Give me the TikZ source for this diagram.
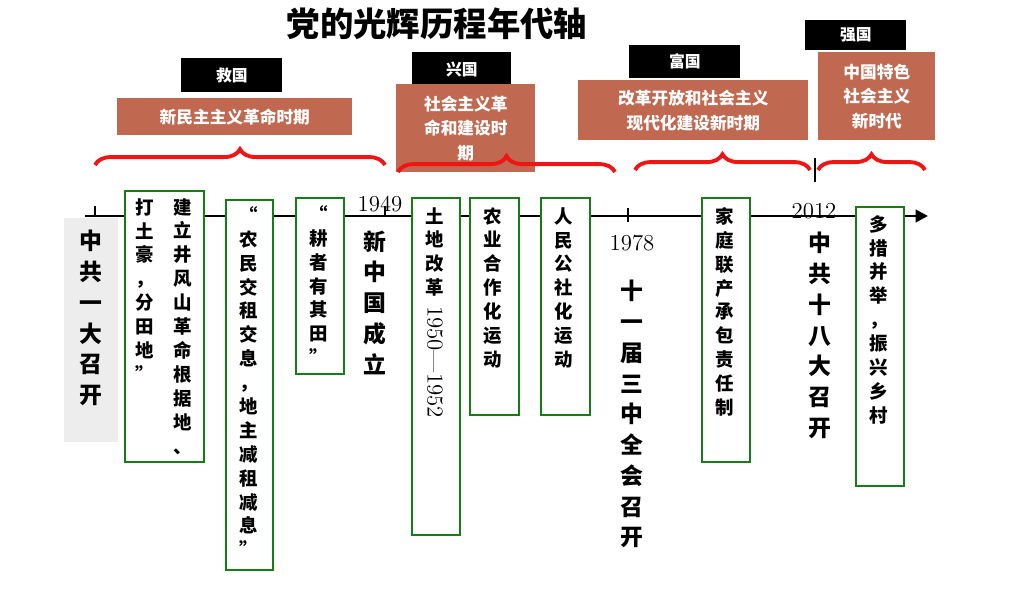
\documentclass[tikz,border=0pt]{standalone}
\usepackage{fontspec}
\newfontfamily\cjk{Noto Sans CJK SC}
\usetikzlibrary{positioning,arrows.meta,decorations.pathreplacing}
\definecolor{brick}{RGB}{192,104,80}
\definecolor{boxgreen}{RGB}{20,125,20}
\definecolor{bracered}{RGB}{240,20,20}
\tikzset{
  gbox/.style={draw=boxgreen,line width=1.4pt,fill=white,anchor=north west,inner sep=0pt},
  tab/.style={fill=black,text=white,anchor=north west,inner sep=0pt,font=\cjk\bfseries\fontsize{9}{11}\selectfont},
  era/.style={fill=brick,text=white,anchor=north west,inner sep=0pt,align=center,font=\cjk\bfseries\fontsize{9.5}{14}\selectfont},
  vt/.style={anchor=north,align=center,inner sep=0pt,font=\cjk\bfseries\fontsize{10.5}{13.6}\selectfont},
  bigvt/.style={anchor=north,align=center,inner sep=0pt,font=\cjk\bfseries\fontsize{13}{17.5}\selectfont},
  year/.style={font=\rmfamily\fontsize{13}{13}\selectfont,inner sep=0pt},
  brc/.style={draw=bracered,line width=2.2pt,decorate,decoration={brace,amplitude=9pt}}
}
\begin{document}
\begin{tikzpicture}[x=0.02cm,y=-0.02cm]
    \useasboundingbox (0,0) rectangle (1011,597);

    % title
    \node[font=\cjk\bfseries\fontsize{19}{21}\selectfont] (title) at (437,24) {党的光辉历程年代轴};

    % black tabs
    \node[tab,minimum width=2.02cm,minimum height=0.68cm] (jiu) at (181,58) {救国};
    \node[tab,minimum width=1.98cm,minimum height=0.68cm] (xing) at (412,52) {兴国};
    \node[tab,minimum width=2.22cm,minimum height=0.66cm] (fu) at (629,45) {富国};
    \node[tab,minimum width=2.02cm,minimum height=0.6cm] (qiang) at (805,20) {强国};

    % era boxes
    \node[era,minimum width=4.7cm,minimum height=0.74cm] (era1) at (117,98) {新民主主义革命时期};
    \node[era,minimum width=2.78cm,minimum height=1.76cm] (era2) at (396,84) {社会主义革\\命和建设时\\期};
    \node[era,minimum width=4.6cm,minimum height=1.2cm] (era3) at (578,80) {改革开放和社会主义\\现代化建设新时期};
    \node[era,minimum width=2.34cm,minimum height=1.76cm] (era4) at (818,52) {中国特色\\社会主义\\新时代};

    % braces
    \draw[brc] (95,165) -- (385,165);
    \draw[brc] (398,172) -- (615,172);
    \draw[brc] (635,170) -- (810,170);
    \draw[brc] (818,170) -- (925,170);

    % axis
    \coordinate (start) at (85,216);
    \coordinate (end) at (928,216);
    \draw[line width=1.6pt,-{Triangle[length=7pt,width=7pt]}] (start) -- (end);
    \draw[line width=1.2pt] (95,206) -- (95,216);
    \draw[line width=1.2pt] (385,206) -- (385,216);
    \draw[line width=1.2pt] (628,208) -- (628,222);
    \draw[line width=1.2pt] (815,158) -- (815,182);

    % first congress
    \node[fill=black!7,anchor=north west,minimum width=1.08cm,minimum height=4.48cm,inner sep=0pt] (yida) at (64,218) {};
    \node[bigvt] at (91,230) {中\\共\\一\\大\\召\\开};

    % green boxes
    \node[gbox,minimum width=1.58cm,minimum height=5.42cm] (jgs) at (124,190) {};
    \node[vt] at (183,198) {建\\立\\井\\风\\山\\革\\命\\根\\据\\地\\、};
    \node[vt] at (145,198) {打\\土\\豪\\，\\分\\田\\地\\”};
    \node[gbox,minimum width=0.94cm,minimum height=7.4cm] (jzjx) at (225,199) {};
    \node[vt] at (249,206) {“\\农\\民\\交\\租\\交\\息\\，\\地\\主\\减\\租\\减\\息\\”};
    \node[gbox,minimum width=0.96cm,minimum height=3.52cm] (gzy) at (295,197) {};
    \node[vt] at (319,205) {“\\耕\\者\\有\\其\\田\\”};

    % 1949
    \node[year] (y49) at (380,204) {1949};
    \node[bigvt] at (375,230) {新\\中\\国\\成\\立};

    \node[gbox,minimum width=0.96cm,minimum height=6.74cm] (tg) at (411,197) {};
    \node[vt] (tgtxt) at (435,207) {土\\地\\改\\革};
    \node[year,rotate=-90] at (435,362) {1950—1952};
    \node[gbox,minimum width=0.98cm,minimum height=4.34cm] (nyhz) at (469,197) {};
    \node[vt] at (493,207) {农\\业\\合\\作\\化\\运\\动};
    \node[gbox,minimum width=0.98cm,minimum height=4.34cm] (rmgs) at (540,197) {};
    \node[vt] at (564,207) {人\\民\\公\\社\\化\\运\\动};

    % 1978
    \node[year] (y78) at (632,243) {1978};
    \node[bigvt] at (632,280) {十\\一\\届\\三\\中\\全\\会\\召\\开};
    \node[gbox,minimum width=0.96cm,minimum height=5.28cm] (jtlc) at (701,197) {};
    \node[vt] at (725,207) {家\\庭\\联\\产\\承\\包\\责\\任\\制};

    % 2012
    \node[year] (y12) at (814,211) {2012};
    \node[bigvt] at (820,232) {中\\共\\十\\八\\大\\召\\开};
    \node[gbox,minimum width=0.96cm,minimum height=5.58cm] (zxxc) at (855,206) {};
    \node[vt] at (879,215) {多\\措\\并\\举\\，\\振\\兴\\乡\\村};
\end{tikzpicture}
\end{document}
